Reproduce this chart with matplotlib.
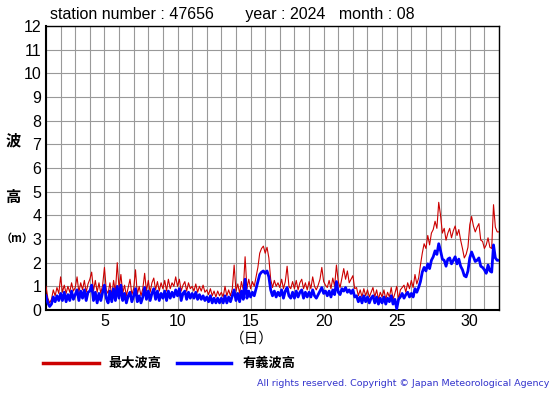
import numpy as np
import matplotlib
matplotlib.use("Agg")
import matplotlib.pyplot as plt

# 3-hourly readings, 8 per day, day 1 00h .. day 32 00h
max_wave = [
    1.0, 0.5, 0.3, 0.45, 0.85, 0.6, 0.95, 0.7,
    1.4, 0.75, 1.05, 0.7, 1.0, 0.75, 1.15, 0.8,
    0.95, 1.4, 0.75, 1.15, 0.85, 1.25, 0.75, 1.1,
    1.3, 1.6, 0.8, 1.25, 0.75, 1.15, 0.7, 1.05,
    1.8, 0.85, 0.7, 1.15, 0.6, 1.25, 0.75, 2.0,
    0.9, 1.5, 0.7, 1.05, 0.6, 0.95, 1.3, 0.65,
    0.9, 1.7, 0.65, 1.0, 0.6, 0.9, 1.55, 0.8,
    1.25, 0.75, 1.15, 1.35, 0.85, 1.2, 0.8, 1.15,
    0.9, 1.25, 0.8, 1.3, 0.9, 1.15, 1.0, 1.4,
    1.0, 1.3, 0.8, 1.05, 1.2, 0.8, 1.15, 0.9,
    1.0, 0.8, 1.1, 0.75, 1.0, 0.8, 1.05, 0.75,
    0.85, 0.65, 0.9, 0.6, 0.8, 0.55, 0.8, 0.6,
    0.75, 0.55, 1.0, 0.6, 0.85, 0.6, 0.9, 1.9,
    0.8, 1.1, 0.7, 1.2, 0.85, 2.25, 0.9, 1.3,
    0.9, 1.2, 1.0, 1.4, 1.8, 2.4, 2.6, 2.7,
    2.4, 2.65, 2.2, 1.3, 0.95, 1.25, 1.0, 1.15,
    0.95, 1.3, 0.9, 1.2, 1.85, 1.0, 0.9, 1.2,
    0.9, 1.25, 0.85, 1.15, 1.3, 0.9, 1.15, 0.85,
    1.2, 0.9, 1.4, 1.0, 0.85, 1.05, 1.3, 1.8,
    1.2, 1.05, 0.95, 1.25, 0.9, 1.35, 1.0, 1.9,
    1.2, 0.95, 1.35, 1.75, 1.3, 1.65, 1.15, 1.3,
    1.45, 0.9, 0.95, 0.6, 0.85, 0.55, 0.9, 0.6,
    0.85, 0.55, 0.75, 0.95, 0.55, 0.85, 0.45, 0.75,
    0.55, 0.85, 0.45, 0.75, 0.55, 0.95, 0.45, 0.7,
    1.0, 0.45, 0.85, 0.95, 1.05, 0.75, 1.15, 0.9,
    1.25, 0.95, 1.5, 1.1, 1.35, 1.9, 2.4, 2.8,
    2.6, 3.15, 2.75, 3.25, 3.4, 3.75, 3.45, 4.55,
    4.0, 3.25, 3.45, 2.95, 3.25, 3.45, 3.05, 3.35,
    3.55, 3.15, 3.4, 2.95, 2.6, 2.2, 2.35, 2.65,
    3.6, 3.95, 3.55, 3.3, 3.5, 3.65, 2.95, 2.9,
    2.6, 2.75, 3.05, 2.65, 2.6, 4.45, 3.5, 3.3,
    3.3,
]
sig_wave = [
    0.6, 0.3, 0.15, 0.25, 0.55, 0.35, 0.6, 0.4,
    0.7, 0.4, 0.75, 0.35, 0.65, 0.4, 0.8, 0.45,
    0.65, 0.85, 0.4, 0.8, 0.5, 0.85, 0.4, 0.75,
    0.8, 1.05, 0.4, 0.75, 0.3, 0.7, 0.4, 0.75,
    1.05, 0.5, 0.3, 0.8, 0.35, 0.9, 0.4, 1.0,
    0.5, 1.05, 0.4, 0.7, 0.3, 0.6, 0.75, 0.35,
    0.6, 0.9, 0.35, 0.6, 0.3, 0.55, 0.95, 0.45,
    0.8, 0.4, 0.7, 0.9, 0.45, 0.8, 0.4, 0.7,
    0.5, 0.8, 0.4, 0.8, 0.5, 0.75, 0.55, 0.85,
    0.6, 0.9, 0.4, 0.7, 0.8, 0.45, 0.75, 0.5,
    0.7, 0.5, 0.75, 0.45, 0.65, 0.45, 0.6, 0.4,
    0.55, 0.35, 0.6, 0.3, 0.5, 0.3, 0.5, 0.3,
    0.5, 0.3, 0.6, 0.3, 0.55, 0.35, 0.6, 0.85,
    0.4, 0.7, 0.35, 0.8, 0.45, 1.3, 0.5, 0.8,
    0.55, 0.75, 0.6, 0.9, 1.2, 1.5, 1.6, 1.65,
    1.55, 1.65, 1.4, 0.85, 0.6, 0.8, 0.55, 0.75,
    0.6, 0.85, 0.5, 0.8, 0.95, 0.6, 0.5, 0.75,
    0.5, 0.8, 0.55, 0.75, 0.85, 0.5, 0.75, 0.55,
    0.75, 0.55, 0.85, 0.6, 0.5, 0.65, 0.8, 0.95,
    0.7, 0.8, 0.6, 0.8, 0.55, 0.85, 0.65, 1.2,
    0.75, 0.65, 0.9, 0.8, 0.95, 0.75, 0.85, 0.7,
    0.85, 0.55, 0.6, 0.35, 0.55, 0.3, 0.6, 0.35,
    0.55, 0.3, 0.5, 0.6, 0.3, 0.55, 0.25, 0.5,
    0.3, 0.55, 0.25, 0.5, 0.35, 0.6, 0.25, 0.45,
    0.05, 0.45, 0.55, 0.7, 0.5, 0.65, 0.75, 0.55,
    0.7, 0.55, 0.9, 0.75, 0.95, 1.2, 1.6, 1.8,
    1.65, 1.95, 1.75, 2.1, 2.25, 2.5, 2.35, 2.8,
    2.5, 2.15, 2.1, 1.85, 2.15, 2.2, 1.95, 2.1,
    2.25, 1.95, 2.15, 1.85, 1.7, 1.45, 1.4, 1.65,
    2.2, 2.45, 2.25, 2.05, 2.1, 2.2, 1.85, 1.8,
    1.7, 1.55, 1.9, 1.65, 1.6, 2.75, 2.2, 2.1,
    2.1,
]
day_ticks = [5, 10, 15, 20, 25, 30]
height_ticks = list(range(0, 13))

t = 1 + np.arange(len(max_wave)) / 8.0

fig = plt.figure(figsize=(5.55, 3.95), dpi=100)
ax = fig.add_axes([46 / 555, 85 / 395, 453 / 555, 284 / 395])

ax.plot(t, max_wave, color="#cc0000", lw=0.8, zorder=3)
ax.plot(t, sig_wave, color="#0000ff", lw=2.0, zorder=4)

ax.set_xlim(1, 32)
ax.set_ylim(0, 12)
ax.set_xticks(np.arange(1, 33), minor=True)
ax.set_xticks(day_ticks)
ax.set_yticks(height_ticks)
ax.grid(True, which="both", color="#999999", lw=0.8)
ax.tick_params(which="both", length=0, labelsize=11.5)
ax.tick_params(axis="x", pad=3)
ax.tick_params(axis="y", pad=3.5)
for lab in ax.get_xticklabels() + ax.get_yticklabels():
    lab.set_fontfamily("Liberation Sans")
for sp in ax.spines.values():
    sp.set_color("black")
    sp.set_linewidth(1.0)
ax.spines["left"].set_linewidth(1.5)
ax.spines["bottom"].set_linewidth(1.5)

fig.text(50 / 555, 1 - 14 / 395, "station number : 47656       year : 2024   month : 08",
         fontsize=11.5, family="Liberation Sans", va="center", ha="left")

jp = ["Noto Sans CJK JP", "DejaVu Sans"]
fig.text(13 / 555, 1 - 140 / 395, "波", fontsize=11, family=jp, weight="bold", ha="center", va="center")
fig.text(13 / 555, 1 - 197 / 395, "高", fontsize=11, family=jp, weight="bold", ha="center", va="center")
fig.text(0.5 / 555, 1 - 238 / 395, "（m）", fontsize=8, family=jp, weight="bold", ha="left", va="center")
fig.text(252 / 555, 1 - 339 / 395, "（日）", fontsize=10.5, family=jp, ha="center", va="center")

# legend
fig.add_artist(plt.Line2D([43 / 555, 99 / 555], [1 - 363 / 395] * 2, color="#cc0000", lw=2.5))
fig.text(108 / 555, 1 - 363 / 395, "最大波高", fontsize=9.5, family=jp, weight="bold", va="center")
fig.add_artist(plt.Line2D([177 / 555, 231 / 555], [1 - 363 / 395] * 2, color="#0000ff", lw=2.5))
fig.text(243 / 555, 1 - 363 / 395, "有義波高", fontsize=9.5, family=jp, weight="bold", va="center")

fig.text(549 / 555, 1 - 384 / 395, "All rights reserved. Copyright © Japan Meteorological Agency",
         fontsize=6.8, color="#3333cc", ha="right", va="center")

fig.savefig("out.png", dpi=100)
